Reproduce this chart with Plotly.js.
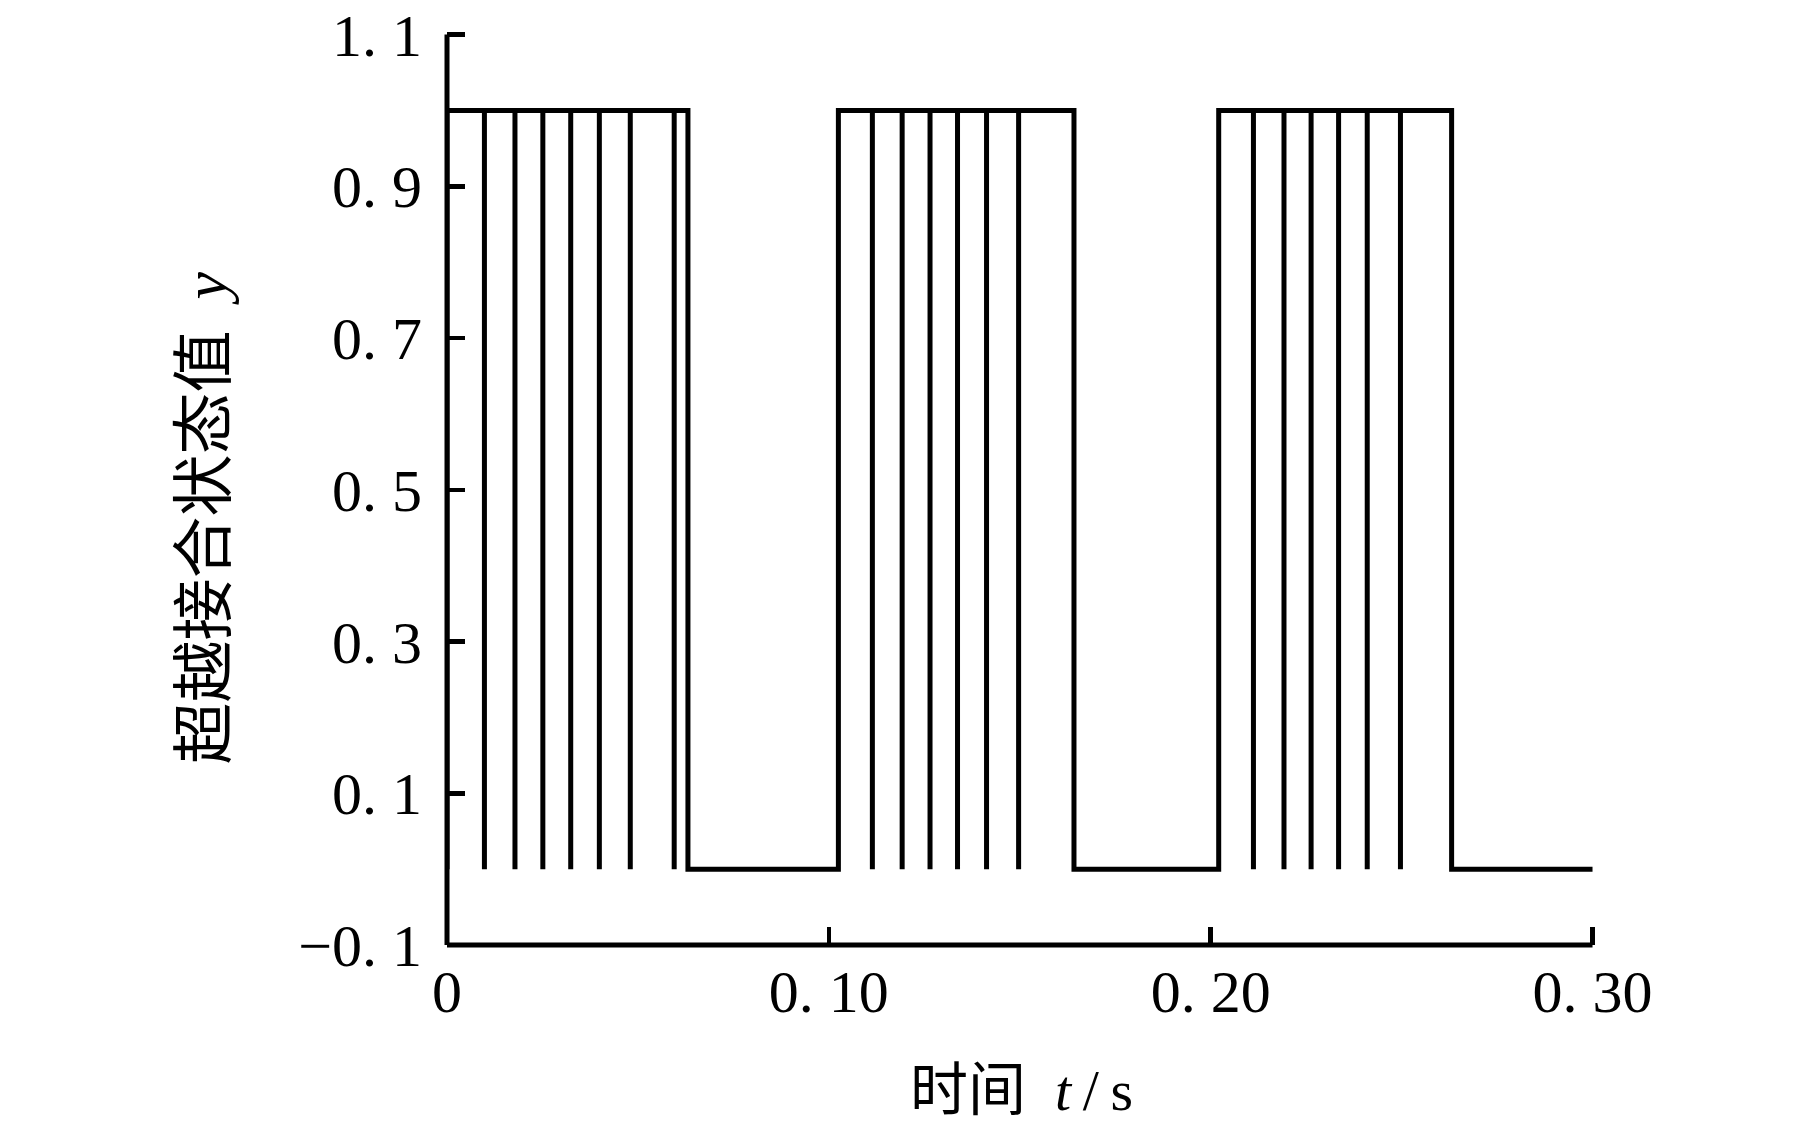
<!DOCTYPE html>
<html>
<head>
<meta charset="utf-8">
<script src="https://cdn.plot.ly/plotly-3.0.1.min.js"></script>
<style>html,body{margin:0;padding:0;background:#fff;}#chart{width:1819px;height:1125px;}</style>
</head>
<body>
<div id="chart"></div>
<script>
// Pulse on/off times (s) and the brief drops to 0 inside each pulse
const pulseStart = [0, 0.1025, 0.2021];
const pulseEnd   = [0.0631, 0.1642, 0.2631];
const pulseDips  = [
  [0.0098, 0.0178, 0.0251, 0.0324, 0.0399, 0.0480, 0.0595],
  [0.1114, 0.1192, 0.1265, 0.1337, 0.1413, 0.1497],
  [0.2112, 0.2192, 0.2263, 0.2335, 0.2410, 0.2497]
];
const tEnd = 0.30;
const stateHigh = 1, stateLow = 0;

const xTickVals = [0, 0.10, 0.20, 0.30];
const xTickText = ["0", "0. 10", "0. 20", "0. 30"];
const yTickVals = [-0.1, 0.1, 0.3, 0.5, 0.7, 0.9, 1.1];
const yTickText = ["\u22120. 1", "0. 1", "0. 3", "0. 5", "0. 7", "0. 9", "1. 1"];

const xTitle = "时间&nbsp;&nbsp;<i>t</i>\u2009/\u2009s";
const yTitle = "超越接合状态值&nbsp;&nbsp;<i>y</i>";

// Build step waveform from the event arrays
const xs = [], ys = [];
for (let i = 0; i < pulseStart.length; i++) {
  xs.push(pulseStart[i], pulseStart[i]); ys.push(stateLow, stateHigh);
  for (const d of pulseDips[i]) {
    xs.push(d, d, d); ys.push(stateHigh, stateLow, stateHigh);
  }
  xs.push(pulseEnd[i], pulseEnd[i]); ys.push(stateHigh, stateLow);
}
xs.push(tEnd); ys.push(stateLow);

// axis ranges (slightly padded at the far end so the end ticks are drawn)
const xMin = 0, xMax = 0.30, xRangeMax = 0.30065;
const yMin = -0.1, yMax = 1.1, yRangeMax = 1.1033;

const serif = "Liberation Serif, Times New Roman, serif";
const cjk = "Liberation Serif, Noto Sans CJK SC, serif";

const trace = {
  x: xs, y: ys, type: "scatter", mode: "lines",
  line: {color: "#000", width: 5, shape: "linear"},
  hoverinfo: "skip", showlegend: false
};

const layout = {
  width: 1819, height: 1125,
  paper_bgcolor: "#fff", plot_bgcolor: "#fff",
  margin: {l: 447, r: 223.5, t: 31.5, b: 180, pad: 0},
  showlegend: false,
  xaxis: {
    range: [xMin, xRangeMax], showgrid: false, zeroline: false,
    showline: false,
    ticks: "inside", ticklen: 18, tickwidth: 4.5, tickcolor: "#000",
    tickmode: "array", tickvals: xTickVals, ticktext: xTickText,
    tickfont: {family: serif, size: 60, color: "#000"},
    ticklabelstandoff: 6, ticklabeloverflow: "allow"
  },
  yaxis: {
    range: [yMin, yRangeMax], showgrid: false, zeroline: false,
    showline: false,
    ticks: "inside", ticklen: 18, tickwidth: 4.5, tickcolor: "#000",
    tickmode: "array", tickvals: yTickVals, ticktext: yTickText,
    tickfont: {family: serif, size: 60, color: "#000"},
    ticklabelstandoff: 24, ticklabeloverflow: "allow"
  },
  annotations: [
    {text: xTitle, xref: "paper", yref: "paper", x: 0.5, y: 0,
     xanchor: "center", yanchor: "middle", yshift: -145, showarrow: false,
     font: {family: cjk, size: 58, color: "#000"}},
    {text: yTitle, xref: "paper", yref: "y", x: 0, y: 0.462,
     xanchor: "center", yanchor: "middle", xshift: -242, textangle: -90, showarrow: false,
     font: {family: cjk, size: 62, color: "#000"}}
  ],
  shapes: [
    {type: "line", xref: "paper", yref: "paper", x0: 0, x1: (xMax - xMin) / (xRangeMax - xMin), y0: 0, y1: 0,
     line: {color: "#000", width: 5}, layer: "above"},
    {type: "line", xref: "paper", yref: "paper", x0: 0, x1: 0, y0: 0, y1: (yMax - yMin) / (yRangeMax - yMin),
     line: {color: "#000", width: 5}, layer: "above"}
  ]
};

Plotly.newPlot("chart", [trace], layout, {staticPlot: true, displayModeBar: false});
</script>
</body>
</html>
